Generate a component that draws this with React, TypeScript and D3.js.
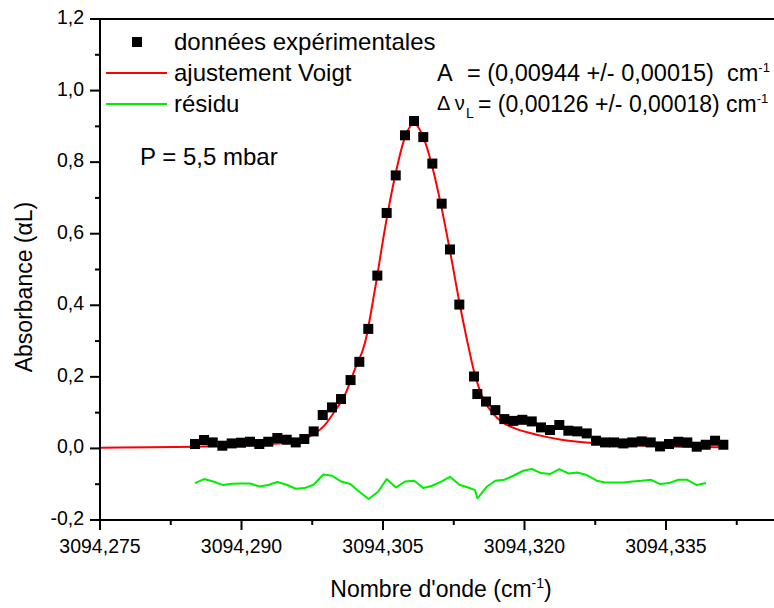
import React from "react";
import * as d3 from "d3";

// Experimental data (wavenumber in cm-1, absorbance alpha*L)
const dataX = [
  3094.28507, 3094.28603, 3094.28695, 3094.28797, 3094.28896, 3094.28995, 3094.2909, 3094.29189,
  3094.29284, 3094.2938, 3094.29479, 3094.29575, 3094.29666, 3094.29765, 3094.29861, 3094.29959,
  3094.30055, 3094.30156, 3094.30249, 3094.30344, 3094.3044, 3094.30539, 3094.30635, 3094.30733,
  3094.30829, 3094.30927, 3094.31023, 3094.31122, 3094.3121, 3094.31309, 3094.31465, 3094.315,
  3094.31592, 3094.31691, 3094.31786, 3094.31881, 3094.31977, 3094.32077, 3094.32175, 3094.3227,
  3094.32369, 3094.32465, 3094.3256, 3094.3266, 3094.32758, 3094.32854, 3094.32949, 3094.33048,
  3094.33143, 3094.33243, 3094.33338, 3094.33437, 3094.33532, 3094.33631, 3094.33726, 3094.33826,
  3094.33921, 3094.3402, 3094.34108,
];
const dataY = [
  0.0123, 0.0235, 0.0168, 0.0076, 0.014, 0.016, 0.0187, 0.0123,
  0.0187, 0.029, 0.0243, 0.0168, 0.0263, 0.0476, 0.0934, 0.1147,
  0.138, 0.191, 0.242, 0.334, 0.483, 0.658, 0.763, 0.875,
  0.915, 0.87, 0.796, 0.684, 0.556, 0.402, 0.201, 0.152,
  0.131, 0.107, 0.082, 0.077, 0.08, 0.0755, 0.0587, 0.0515,
  0.0655, 0.0495, 0.0476, 0.042, 0.0215, 0.0168, 0.0168, 0.014,
  0.0168, 0.0196, 0.0168, 0.0056, 0.0123, 0.0187, 0.0168, 0.0048,
  0.0103, 0.0215, 0.0103,
];

// Voigt fit curve
const fitX = [
  3094.275, 3094.2803, 3094.2856, 3094.28984, 3094.29302, 3094.29514, 3094.29673, 3094.29779,
  3094.29885, 3094.29991, 3094.30097, 3094.30203, 3094.30309, 3094.30415, 3094.30521, 3094.30627,
  3094.30733, 3094.30829, 3094.30924, 3094.3102, 3094.31115, 3094.3121, 3094.31316, 3094.31401,
  3094.31475, 3094.3156, 3094.31666, 3094.31772, 3094.31899, 3094.32058, 3094.32217, 3094.32376,
  3094.32694, 3094.33066, 3094.33437, 3094.33755, 3094.34126,
];
const fitY = [
  0.002, 0.003, 0.005, 0.008, 0.012, 0.018, 0.028, 0.042,
  0.066, 0.105, 0.15, 0.222, 0.295, 0.445, 0.615, 0.76,
  0.87, 0.908, 0.872, 0.79, 0.68, 0.552, 0.4, 0.29,
  0.205, 0.14, 0.097, 0.072, 0.056, 0.043, 0.033, 0.025,
  0.016, 0.01, 0.006, 0.004, 0.003,
];

// Residual (offset)
const resX = [
  3094.28507, 3094.28603, 3094.28701, 3094.28807, 3094.28896, 3094.28995, 3094.2909, 3094.29189,
  3094.29284, 3094.2938, 3094.29479, 3094.29575, 3094.29666, 3094.29765, 3094.29867, 3094.29959,
  3094.30055, 3094.30153, 3094.30249, 3094.30348, 3094.3045, 3094.30539, 3094.30638, 3094.30733,
  3094.30832, 3094.30927, 3094.31023, 3094.31122, 3094.3121, 3094.31309, 3094.31404, 3094.31475,
  3094.31502, 3094.31599, 3094.31691, 3094.31786, 3094.31881, 3094.31987, 3094.32077, 3094.32175,
  3094.3227, 3094.32369, 3094.32465, 3094.3256, 3094.3266, 3094.32766, 3094.32854, 3094.32949,
  3094.33048, 3094.33143, 3094.33243, 3094.33338, 3094.33437, 3094.33532, 3094.33631, 3094.33726,
  3094.33826, 3094.33924,
];
const resY = [
  -0.0968, -0.0856, -0.0923, -0.1024, -0.0987, -0.0979, -0.0979, -0.1063,
  -0.1024, -0.094, -0.1015, -0.1127, -0.1108, -0.1015, -0.0727, -0.0764,
  -0.0923, -0.0996, -0.1211, -0.1415, -0.1203, -0.0856, -0.1091, -0.0923,
  -0.0903, -0.1108, -0.1043, -0.0923, -0.0792, -0.1015, -0.1091, -0.1164,
  -0.1393, -0.1071, -0.0903, -0.0876, -0.0764, -0.0624, -0.0576, -0.0688,
  -0.0716, -0.0576, -0.0699, -0.0671, -0.0744, -0.0903, -0.0951, -0.0951,
  -0.0951, -0.0923, -0.0903, -0.0876, -0.0996, -0.0968, -0.0876, -0.0876,
  -0.1024, -0.0968,
];

const xMajorTicks = [3094.275, 3094.29, 3094.305, 3094.32, 3094.335];
const xMinorTicks = [3094.2825, 3094.2975, 3094.3125, 3094.3275, 3094.3425];
const yMajorTicks = [-0.2, 0, 0.2, 0.4, 0.6, 0.8, 1.0, 1.2];
const yMinorTicks = [-0.1, 0.1, 0.3, 0.5, 0.7, 0.9, 1.1];

const W = 774;
const H = 608;
const FONT = "'Liberation Sans', Arial, Helvetica, sans-serif";

const locale = d3.formatLocale({
  decimal: ",",
  thousands: "",
  grouping: [3],
  currency: ["", ""],
  minus: "-",
});
const fmtX = locale.format(".3f");
const fmtY = locale.format(".1f");

export default function App() {
  const x = d3.scaleLinear().domain([3094.275, 3094.35]).range([100, 807.5]);
  const y = d3.scaleLinear().domain([-0.2, 1.2]).range([520, 19]);
  const xEnd = x(3094.349);

  const line = d3
    .line<[number, number]>()
    .x((d) => x(d[0]))
    .y((d) => y(d[1]));
  const smooth = d3
    .line<[number, number]>()
    .x((d) => x(d[0]))
    .y((d) => y(d[1]))
    .curve(d3.curveMonotoneX);

  const fitPts = fitX.map((v, i) => [v, fitY[i]] as [number, number]);
  const resPts = resX.map((v, i) => [v, resY[i]] as [number, number]);

  const x0 = x.range()[0];
  const yTop = y(1.2);
  const yBot = y(-0.2);

  return (
    <svg
      width={W}
      height={H}
      style={{ position: "absolute", left: 0, top: 0, background: "#fff" }}
      fontFamily={FONT}
    >
      <rect x={0} y={0} width={W} height={H} fill="#fff" />
      {/* fit curve */}
      <path d={smooth(fitPts) || ""} fill="none" stroke="#ff0000" strokeWidth={2} />
      {/* residual */}
      <path d={line(resPts) || ""} fill="none" stroke="#00ee00" strokeWidth={2} strokeLinejoin="round" />
      {/* data squares */}
      {dataX.map((v, i) => (
        <rect key={i} x={x(v) - 5} y={y(dataY[i]) - 5} width={10} height={10} fill="#000" />
      ))}

      {/* frame */}
      <line x1={x0} x2={xEnd} y1={yTop} y2={yTop} stroke="#000" strokeWidth={2} />
      <line x1={x0} x2={xEnd} y1={yBot} y2={yBot} stroke="#000" strokeWidth={2} />
      <line x1={x0} x2={x0} y1={yTop - 1} y2={yBot + 10} stroke="#000" strokeWidth={2} />
      <line x1={xEnd} x2={xEnd} y1={yTop} y2={yBot} stroke="#000" strokeWidth={2} />

      {/* y ticks */}
      {yMajorTicks.map((t) => (
        <g key={"ym" + t}>
          <line x1={x0 - 10} x2={x0} y1={y(t)} y2={y(t)} stroke="#000" strokeWidth={2} />
          <text x={x0 - 16} y={y(t) - 2} fontSize={19.5} textAnchor="end" dominantBaseline="central">
            {fmtY(t)}
          </text>
        </g>
      ))}
      {yMinorTicks.map((t) => (
        <line key={"yn" + t} x1={x0 - 5} x2={x0} y1={y(t)} y2={y(t)} stroke="#000" strokeWidth={2} />
      ))}

      {/* x ticks */}
      {xMajorTicks.map((t) => (
        <g key={"xm" + t}>
          <line x1={x(t)} x2={x(t)} y1={yBot} y2={yBot + 10} stroke="#000" strokeWidth={2} />
          <text x={x(t)} y={yBot + 33} fontSize={19.5} textAnchor="middle">
            {fmtX(t)}
          </text>
        </g>
      ))}
      {xMinorTicks.map((t) => (
        <line key={"xn" + t} x1={x(t)} x2={x(t)} y1={yBot} y2={yBot + 5} stroke="#000" strokeWidth={2} />
      ))}

      {/* axis titles */}
      <text x={441} y={597} fontSize={23} textAnchor="middle">
        Nombre d'onde (cm<tspan dy={-9} fontSize={14}>-1</tspan>
        <tspan dy={9}>)</tspan>
      </text>
      <text transform="translate(32,287) rotate(-90)" fontSize={23} textAnchor="middle">
        Absorbance (αL)
      </text>

      {/* legend */}
      <rect x={132} y={37} width={10} height={10} fill="#000" />
      <text x={174} y={50} fontSize={24}>données expérimentales</text>
      <line x1={106} x2={167} y1={73} y2={73} stroke="#ff0000" strokeWidth={2} />
      <text x={174} y={81} fontSize={24}>ajustement Voigt</text>
      <line x1={106} x2={167} y1={104} y2={104} stroke="#00ee00" strokeWidth={2} />
      <text x={174} y={112} fontSize={24}>résidu</text>

      <text x={140} y={165} fontSize={24}>P = 5,5 mbar</text>

      <text x={437} y={81} fontSize={23.5}>A</text>
      <text x={467} y={81} fontSize={23.5} xmlSpace="preserve">
        {"= (0,00944 +/- 0,00015)  cm"}
        <tspan dy={-9} fontSize={13}>-1</tspan>
      </text>
      <text x={437} y={110} fontSize={20}>
        Δ ν
      </text>
      <text x={466} y={118} fontSize={14}>
        L
      </text>
      <text x={478} y={112} fontSize={23} xmlSpace="preserve">
        {"= (0,00126 +/- 0,00018) cm"}
        <tspan dy={-9} fontSize={13}>-1</tspan>
      </text>
    </svg>
  );
}
